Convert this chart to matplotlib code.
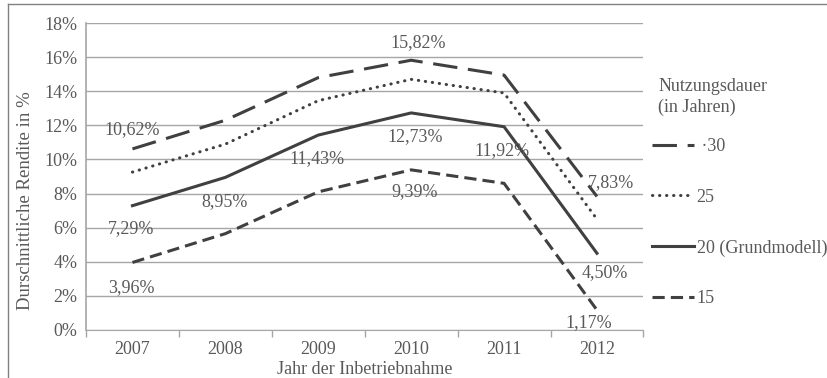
import numpy as np
import matplotlib.pyplot as plt
from matplotlib.lines import Line2D

plt.rcParams['font.family'] = ['Liberation Serif', 'DejaVu Serif']

years = ['2007', '2008', '2009', '2010', '2011', '2012']
r30 = [10.62, 12.3, 14.8, 15.82, 14.95, 7.83]
r25 = [9.26, 10.9, 13.45, 14.7, 13.9, 6.5]
r20 = [7.29, 8.95, 11.43, 12.73, 11.92, 4.50]
r15 = [3.96, 5.65, 8.1, 9.39, 8.6, 1.17]

# labelled points: index -> label offset from the point in pixels (dx, dy, +up)
lab30 = {0: (0, 19), 3: (7, 18), 5: (14, 14)}
lab20 = {0: (-1, -23), 1: (-1, -24), 2: (-1, -24), 3: (4, -24), 4: (-2, -24), 5: (8, -19)}
lab15 = {0: (-1, -25), 3: (3, -22), 5: (-8, -13)}

txt = '#595959'
ink = '#404040'
fs = 13

fig = plt.figure(figsize=(8.27, 3.78), dpi=100)
ax = fig.add_axes([0.104, 0.127, 0.674, 0.812])

x = np.arange(len(years))
ax.plot(x, r30, color=ink, lw=2.2, dashes=(8, 3.5), label=' \u00b730')
ax.plot(x, r25, color=ink, lw=2.2, linestyle=(0, (0.1, 2.2)), dash_capstyle='round', label='25')
ax.plot(x, r20, color=ink, lw=2.2, label='20 (Grundmodell)')
ax.plot(x, r15, color=ink, lw=2.2, dashes=(4, 2), label='15')


def fmt(v):
    return f'{v:.2f}%'.replace('.', ',')


def put_labels(vals, spec):
    for i, (dx, dy) in spec.items():
        v = vals[i]
        ax.annotate(fmt(v), (i, v), xytext=(dx * 0.72, dy * 0.72), textcoords='offset points',
                    ha='center', va='center', fontsize=fs, color=txt)


put_labels(r30, lab30)
put_labels(r20, lab20)
put_labels(r15, lab15)

ax.set_xlim(-0.5, len(years) - 0.5)
ax.set_ylim(0, 18)
ax.set_yticks(np.arange(0, 19, 2))
ax.set_yticklabels([f'{v}%' for v in range(0, 19, 2)])
ax.set_xticks(x)
ax.set_xticklabels(years)
ax.set_xticks(np.arange(-0.5, len(years)), minor=True)
ax.tick_params(axis='x', which='major', length=0, pad=8, labelsize=fs, labelcolor=txt)
ax.tick_params(axis='x', which='minor', length=5, color='#a6a6a6', width=1)
ax.tick_params(axis='y', length=0, pad=6, labelsize=fs, labelcolor=txt)
ax.grid(axis='y', color='#a6a6a6', lw=1)
ax.set_axisbelow(True)
for s in ['top', 'right']:
    ax.spines[s].set_visible(False)
ax.spines['bottom'].set_color('#a6a6a6')
ax.spines['left'].set_color('#a6a6a6')
ax.spines['left'].set_linewidth(1.2)

ax.set_ylabel('Durschnittliche Rendite in %', fontsize=13.5, color=txt)
ax.yaxis.set_label_coords(-0.093, 0.42)
ax.set_xlabel('Jahr der Inbetriebnahme', fontsize=fs, color=txt)
ax.xaxis.set_label_coords(0.5, -0.1)

# legend title set as separate text so it sits close to the entries
ax.text(1.027, 0.82, 'Nutzungsdauer\n(in Jahren)', transform=ax.transAxes,
        ha='left', va='top', fontsize=fs, color=txt, linespacing=1.25)
leg = ax.legend(loc='upper left', bbox_to_anchor=(1.016, 0.626), frameon=False,
                fontsize=fs, handlelength=2.3, handletextpad=0.15,
                labelspacing=1.87, borderpad=0, borderaxespad=0, labelcolor=txt)

# outer frame lines
fig.add_artist(Line2D([8 / 827, 1], [1 - 4 / 378, 1 - 4 / 378], color='#808080', lw=1))
fig.add_artist(Line2D([8 / 827, 8 / 827], [0, 1 - 4 / 378], color='#808080', lw=1))

fig.savefig('out.png', dpi=100)
